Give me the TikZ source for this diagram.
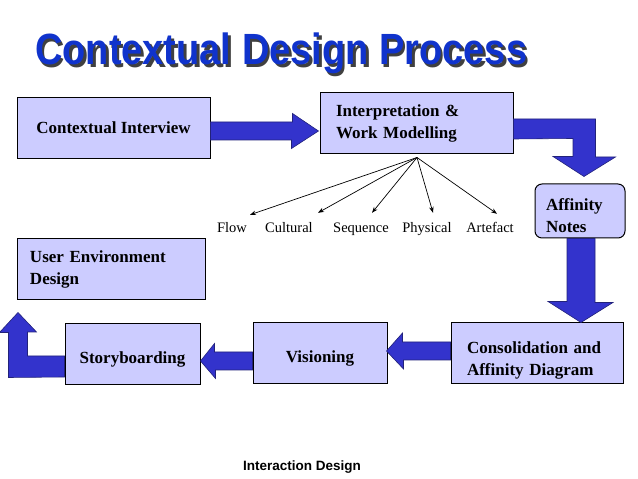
\documentclass[tikz,border=0pt]{standalone}
\usepackage{fontspec}
\setmainfont{Liberation Serif}
\newfontfamily\headfont{Liberation Sans}
\usepackage{xcolor}
\usetikzlibrary{arrows.meta, positioning, calc}

\definecolor{boxfill}{HTML}{CCCCFF}
\definecolor{arrowblue}{HTML}{3333CC}
\definecolor{arrowedge}{HTML}{22227A}
\definecolor{titleblue}{HTML}{1033CC}

\begin{document}
\begin{tikzpicture}[
    x=1pt, y=1pt,
    box/.style={draw, rectangle, fill=boxfill, line width=1pt, inner sep=0pt, minimum height=61pt, font=\bfseries\fontsize{17}{22}\selectfont},
    notes/.style={box, rounded corners=7pt, minimum height=54pt},
    lowtext/.style={text height=22pt, text depth=4pt},
    viewlabel/.style={font=\fontsize{14.5}{17}\selectfont, inner sep=2pt, text height=10pt, text depth=3pt},
    blockarrow/.style={fill=arrowblue, draw=arrowedge, line width=0.6pt, line join=miter},
    fanarrow/.style={-{Stealth[length=6pt,width=4.5pt]}, line width=0.7pt},
    heading/.style={font=\headfont\bfseries\fontsize{38}{40}\selectfont, anchor=base west, inner sep=0pt}
]
\useasboundingbox (0,0) rectangle (638,479);

% title, shadow drawn behind it in the same node
\node[heading] (title) at (35,414) {\scalebox{1}[1.15]{\makebox[0pt][l]{\hspace{2.5pt}\raisebox{-2.5pt}{\textcolor{black!75}{Contextual Design Process}}}\textcolor{titleblue}{Contextual Design Process}}};

% process steps
\node[box, minimum width=193pt, align=center] (ci) at (113.5,351) {Contextual Interview};
\node[box, text width=161pt, inner xsep=16pt, align=left] (iw) at (416.5,355.5) {Interpretation \&\\Work Modelling};
\node[notes, text width=68pt, inner xsep=11pt, align=left] (an) at (580,268) {\rule{0pt}{22pt}Affinity\\Notes};
\node[box, text width=140pt, inner xsep=16pt, align=left] (cad) at (537,125.5) {\rule{0pt}{25pt}Consolidation and\\Affinity Diagram};
\node[box, lowtext, minimum width=134pt, align=center] (vis) at (320,125.5) {Visioning};
\node[box, lowtext, minimum width=135pt, align=center] (sb) at (132.5,124.5) {Storyboarding};
\node[box, text width=162pt, inner xsep=13pt, align=left] (ued) at (111,209.5) {User Environment\\Design};

% work models
\node[viewlabel] (lflow) at (232,249.5) {Flow};
\node[viewlabel] (lcult) at (289,249.5) {Cultural};
\node[viewlabel] (lseq) at (361,249.5) {Sequence};
\node[viewlabel] (lphys) at (427,249.5) {Physical};
\node[viewlabel] (lart) at (490,249.5) {Artefact};

\coordinate (fan) at ($(iw.south)+(0.5,-3)$);
\draw[fanarrow] (fan) -- ($(lflow.north)+(18,6)$);
\draw[fanarrow] (fan) -- ($(lcult.north)+(29,8)$);
\draw[fanarrow] (fan) -- ($(lseq.north)+(11,8)$);
\draw[fanarrow] (fan) -- ($(lphys.north)+(6,8)$);
\draw[fanarrow] (fan) -- ($(lart.north)+(7,7)$);

% block arrows
\draw[blockarrow] ($(ci.east)+(0,6)$) -- ++(82,0) -- ++(0,8.5) -- ($(iw.west)+(-1,-7.5)$)
    -- ++(-27,-17.5) -- ++(0,8.5) -- ($(ci.east)+(0,-12)$) -- cycle;
\draw[blockarrow] ($(iw.east)+(0,4.5)$) -- ++(82,0) -- ++(0,-38) -- ++(20,0) -- ($(an.north)+(4,7)$)
    -- ++(-31,20) -- ++(20,0) -- ++(0,18) -- ($(iw.east)+(0,-15.5)$) -- cycle;
\draw[blockarrow] ($(an.south)+(-13,0)$) -- ++(28,0) -- ++(0,-64) -- ++(18,0) -- ($(cad.north)+(44,0)$)
    -- ++(-33,21) -- ++(19,0) -- cycle;
\draw[blockarrow] ($(cad.west)+(0,11.5)$) -- ++(-48,0) -- ++(0,9) -- ($(vis.east)+(-1,2.5)$)
    -- ++(17,-18) -- ++(0,9) -- ($(cad.west)+(0,-6.5)$) -- cycle;
\draw[blockarrow] ($(vis.west)+(0,1.5)$) -- ++(-38,0) -- ++(0,8.5) -- ($(sb.east)+(0,-6.5)$)
    -- ++(15,-17.5) -- ++(0,8.5) -- ($(vis.west)+(0,-16.5)$) -- cycle;
\draw[blockarrow] ($(sb.west)+(0,-1.5)$) -- ++(-37,0) -- ++(0,24) -- ++(9,0) -- ($(ued.south west)+(1.5,-12)$)
    -- ++(-18.5,-20) -- ++(9,0) -- ++(0,-45) -- ($(sb.west)+(0,-22.5)$) -- cycle;

\node[font=\headfont\bfseries\fontsize{13.5}{16}\selectfont] (footer) at (302,12) {Interaction Design};
\end{tikzpicture}
\end{document}
